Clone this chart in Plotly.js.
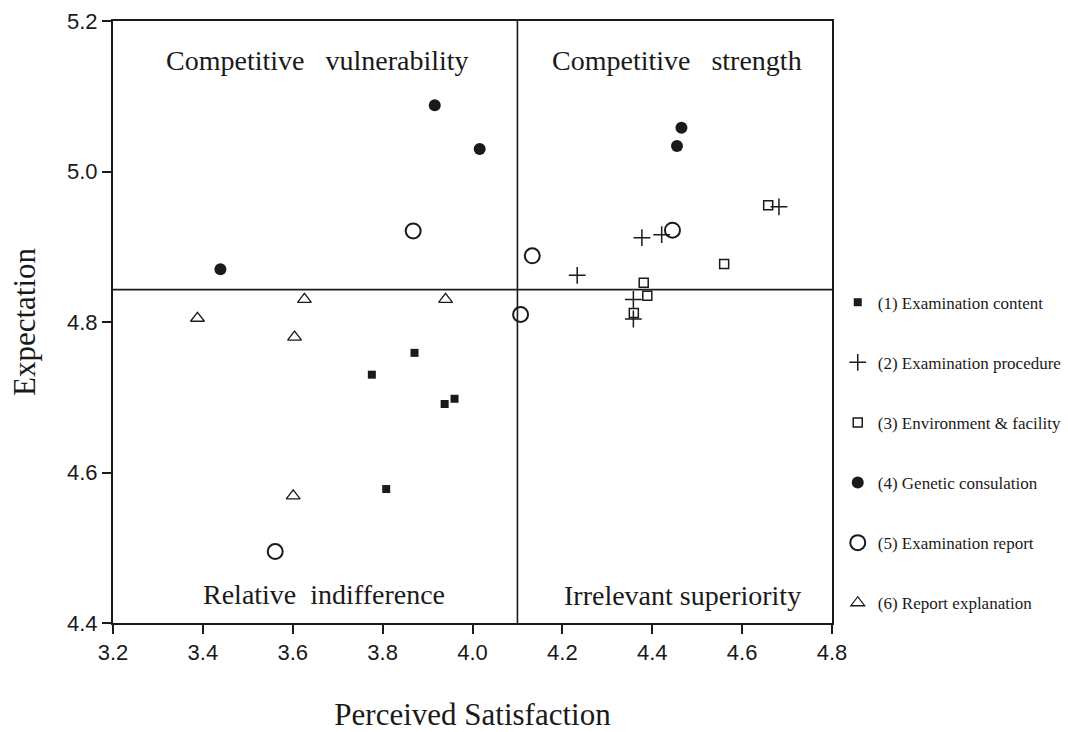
<!DOCTYPE html>
<html><head><meta charset="utf-8">
<script src="https://cdn.plot.ly/plotly-3.0.1.min.js"></script>
<style>html,body{margin:0;padding:0;background:#fff}#chart{width:1068px;height:732px}</style>
</head><body><div id="chart"></div>
<script>
// Data
const seriesNames = ["(1) Examination content","(2) Examination procedure","(3) Environment & facility","(4) Genetic consulation","(5) Examination report","(6) Report explanation"];
const contentX = [3.871, 3.776, 3.938, 3.960, 3.808];
const contentY = [4.759, 4.730, 4.691, 4.698, 4.578];
const procedureX = [4.377, 4.421, 4.233, 4.682, 4.358, 4.358];
const procedureY = [4.912, 4.916, 4.862, 4.953, 4.830, 4.804];
const environmentX = [4.658, 4.560, 4.381, 4.389, 4.359];
const environmentY = [4.955, 4.877, 4.852, 4.835, 4.812];
const consultX = [3.916, 4.016, 3.439, 4.465, 4.455];
const consultY = [5.088, 5.030, 4.870, 5.058, 5.034];
const reportX = [3.868, 4.133, 4.107, 4.445, 3.561];
const reportY = [4.921, 4.888, 4.810, 4.922, 4.495];
const explanationX = [3.626, 3.940, 3.388, 3.604, 3.601];
const explanationY = [4.830, 4.830, 4.805, 4.780, 4.569];
const meanX = 4.10;
const meanY = 4.843;
const quadrantLabels = ["Competitive\u00a0\u00a0\u00a0vulnerability","Competitive\u00a0\u00a0\u00a0strength","Relative\u00a0\u00a0indifference","Irrelevant superiority"];
const xTicks = [3.2,3.4,3.6,3.8,4.0,4.2,4.4,4.6,4.8];
const yTicks = [4.4,4.6,4.8,5.0,5.2];

const ink = '#1a1a1a';
function tr(i, x, y, symbol, size, lw) {
  return {type:'scatter', mode:'markers', x:x, y:y, name:seriesNames[i], legendgroup:'g'+i,
    marker:{symbol:symbol, size:size, color:ink, line:{color:ink, width:lw}}, cliponaxis:false};
}
const data = [
  tr(0, contentX, contentY, 'square', 8, 0),
  tr(1, procedureX, procedureY, 'cross-thin-open', 12, 1.5),
  tr(2, environmentX, environmentY, 'square-open', 9, 1.5),
  tr(3, consultX, consultY, 'circle', 12, 0),
  tr(4, reportX, reportY, 'circle-open', 15, 2),
  tr(5, explanationX, explanationY, 'triangle-up-open', 12, 1.3)
];

const serif = 'Liberation Serif, Times New Roman, serif';
const sans = 'Liberation Sans, Arial, sans-serif';
const layout = {
  width:1068, height:732,
  margin:{l:113, r:236, t:21, b:109, autoexpand:false},
  paper_bgcolor:'#fff', plot_bgcolor:'#fff',
  showlegend:true,
  legend:{x:1.008, y:0.562, xanchor:'left', yanchor:'top', traceorder:'grouped', tracegroupgap:35,
    font:{family:serif, size:17, color:ink}, itemwidth:30, bgcolor:'rgba(0,0,0,0)'},
  xaxis:{range:[3.2,4.8], tickvals:xTicks, ticktext:xTicks.map(v=>v.toFixed(1)),
    showgrid:false, zeroline:false, showline:true, mirror:true, linecolor:ink, linewidth:2,
    ticks:'outside', ticklen:9, tickwidth:2, tickcolor:ink,
    tickfont:{family:sans, size:22, color:ink},
    title:{text:'Perceived Satisfaction', font:{family:serif, size:31, color:ink}, standoff:44}},
  yaxis:{range:[4.4,5.2], tickvals:yTicks, ticktext:yTicks.map(v=>v.toFixed(1)),
    showgrid:false, zeroline:false, showline:true, mirror:true, linecolor:ink, linewidth:2,
    ticks:'outside', ticklen:9, tickwidth:2, tickcolor:ink,
    tickfont:{family:sans, size:22, color:ink},
    title:{text:'Expectation', font:{family:serif, size:31, color:ink}, standoff:22}},
  shapes:[
    {type:'line', xref:'x', yref:'paper', x0:meanX, x1:meanX, y0:0, y1:1, line:{color:ink, width:1.6}},
    {type:'line', xref:'paper', yref:'y', x0:0, x1:1, y0:meanY, y1:meanY, line:{color:ink, width:1.6}}
  ],
  annotations:[
    {text:quadrantLabels[0], xref:'paper', yref:'paper', x:(317-113)/719, y:(623-61)/602, showarrow:false, xanchor:'center', yanchor:'middle', font:{family:serif, size:28, color:ink}},
    {text:quadrantLabels[1], xref:'paper', yref:'paper', x:(677-113)/719, y:(623-61)/602, showarrow:false, xanchor:'center', yanchor:'middle', font:{family:serif, size:28, color:ink}},
    {text:quadrantLabels[2], xref:'paper', yref:'paper', x:(323.5-113)/719, y:(623-594)/602, showarrow:false, xanchor:'center', yanchor:'middle', font:{family:serif, size:28, color:ink}},
    {text:quadrantLabels[3], xref:'paper', yref:'paper', x:(682.7-113)/719, y:(623-595)/602, showarrow:false, xanchor:'center', yanchor:'middle', font:{family:serif, size:28, color:ink}}
  ]
};
Plotly.newPlot('chart', data, layout, {displayModeBar:false, staticPlot:true});
</script></body></html>
